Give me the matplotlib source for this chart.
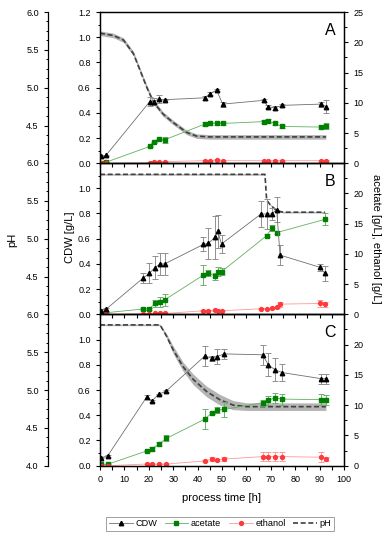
import matplotlib
matplotlib.use("Agg")
import matplotlib.pyplot as plt
from matplotlib.ticker import MultipleLocator
from matplotlib.lines import Line2D
import numpy as np

plt.rcParams['font.family'] = ['Liberation Sans', 'DejaVu Sans']

# ---------------- panel A ----------------
tA = [0.3, 2.5, 20.4, 22, 24, 26.5, 43, 45, 47.8, 50.3, 67.2, 68.7, 71.7, 74.7, 90.6, 92.6]
cdwA = [0.055, 0.065, 0.49, 0.49, 0.51, 0.505, 0.52, 0.553, 0.58, 0.47, 0.50, 0.45, 0.44, 0.46, 0.47, 0.45]
cdwA_err = [0.005, 0.005, 0.035, 0.03, 0.03, 0.005, 0.015, 0.01, 0.01, 0.02, 0.01, 0.01, 0.015, 0.01, 0.02, 0.05]
acA = [0.1, 0.2, 2.8, 3.5, 4.0, 3.9, 6.5, 6.6, 6.6, 6.6, 6.9, 7.0, 6.6, 6.1, 6.0, 6.1]
acA_err = [0.05, 0.05, 0.1, 0.1, 0.1, 0.5, 0.4, 0.2, 0.2, 0.2, 0.3, 0.4, 0.2, 0.2, 0.3, 0.5]
etA = [0, 0, 0.1, 0.15, 0.25, 0.3, 0.45, 0.4, 0.6, 0.45, 0.45, 0.45, 0.45, 0.45, 0.45, 0.45]
etA_err = [0, 0, 0.05, 0.05, 0.05, 0.05, 0.05, 0.05, 0.1, 0.05, 0.05, 0.05, 0.05, 0.05, 0.05, 0.05]
ph_tA = [0, 5.5, 9.6, 13.7, 16.4, 19.1, 21.9, 25.9, 30, 35.5, 39.6, 45, 92.6]
phA = [5.72, 5.69, 5.63, 5.45, 5.23, 5.01, 4.81, 4.65, 4.54, 4.41, 4.36, 4.35, 4.35]
phA_sd = [0.03] * 13

# ---------------- panel B ----------------
tB = [0.3, 2.4, 17.8, 20.2, 22.5, 24.6, 26.5, 42.4, 44.4, 47.1, 48.2, 49.8, 66, 68.3, 70.3, 72.4, 73.8, 90.2, 92.2]
cdwB = [0.03, 0.04, 0.29, 0.325, 0.37, 0.40, 0.40, 0.555, 0.563, 0.61, 0.66, 0.558, 0.796, 0.796, 0.796, 0.83, 0.47, 0.373, 0.325]
cdwB_err = [0.01, 0.01, 0.04, 0.08, 0.09, 0.09, 0.09, 0.055, 0.12, 0.17, 0.13, 0.07, 0.1, 0.12, 0.05, 0.1, 0.08, 0.03, 0.06]
etB = [0, 0, 0.1, 0.1, 0.15, 0.15, 0.15, 0.6, 0.6, 0.7, 0.6, 0.6, 0.93, 0.93, 1.0, 1.15, 1.7, 1.8, 1.7]
etB_err = [0, 0, 0.05, 0.05, 0.05, 0.05, 0.05, 0.1, 0.1, 0.1, 0.1, 0.1, 0.1, 0.1, 0.1, 0.1, 0.4, 0.5, 0.4]
tB_ac = [0.3, 2.4, 17.8, 20.2, 22.5, 24.6, 26.5, 42.4, 44.4, 47.1, 48.2, 49.8, 68.3, 70.3, 72.4, 92.2]
acB = [0.27, 0.27, 0.9, 0.9, 1.8, 2.1, 2.4, 6.5, 6.9, 6.3, 7.05, 7.05, 13.0, 14.2, 13.5, 15.7]
acB_err = [0.05, 0.05, 0.1, 0.1, 0.5, 0.8, 1.0, 1.6, 0.5, 0.6, 0.7, 0.6, 0.2, 0.5, 0.3, 1.0]
ph_tB = [0, 67.6, 68.3, 69.7, 72.4, 75.1, 92.2]
phB = [5.85, 5.85, 5.51, 5.45, 5.37, 5.35, 5.35]
phB_sd = [0.01] * 7

# ---------------- panel C ----------------
tC = [0.3, 3.1, 19.1, 21.2, 24.2, 27.2, 43, 45.8, 47.8, 51, 66.6, 69, 71.7, 74.7, 90.6, 92.6]
cdwC = [0.063, 0.077, 0.543, 0.513, 0.567, 0.593, 0.87, 0.852, 0.865, 0.886, 0.879, 0.80, 0.76, 0.738, 0.69, 0.69]
cdwC_err = [0.005, 0.005, 0.015, 0.01, 0.005, 0.005, 0.08, 0.02, 0.06, 0.04, 0.08, 0.09, 0.09, 0.07, 0.04, 0.04]
acC = [0.23, 0.23, 2.43, 2.77, 3.6, 4.5, 7.7, 8.7, 9.2, 9.3, 10.4, 10.8, 11.2, 11.0, 10.9, 10.9]
acC_err = [0.05, 0.05, 0.2, 0.3, 0.3, 0.5, 1.6, 0.2, 0.5, 1.2, 0.5, 0.7, 0.8, 0.9, 0.9, 0.8]
etC = [0, 0, 0.28, 0.28, 0.28, 0.28, 0.78, 1.1, 0.94, 1.1, 1.5, 1.5, 1.5, 1.5, 1.4, 1.1]
etC_err = [0, 0, 0.05, 0.05, 0.05, 0.05, 0.1, 0.3, 0.1, 0.3, 0.8, 0.8, 0.8, 0.8, 0.8, 0.4]
ph_tC = [0, 24.6, 27.3, 30, 34, 38.2, 43.7, 49.2, 54.6, 60, 92.6]
phC = [5.86, 5.86, 5.71, 5.53, 5.31, 5.14, 4.98, 4.87, 4.80, 4.78, 4.78]
phC_sd = [0.01, 0.01, 0.03, 0.05, 0.06, 0.07, 0.07, 0.07, 0.06, 0.05, 0.05]

panels = [
    dict(letter="A", t=tA, cdw=cdwA, cdw_err=cdwA_err, t_ac=tA, ac=acA, ac_err=acA_err,
         t_et=tA, et=etA, et_err=etA_err, ph_t=ph_tA, ph=phA, ph_sd=phA_sd),
    dict(letter="B", t=tB, cdw=cdwB, cdw_err=cdwB_err, t_ac=tB_ac, ac=acB, ac_err=acB_err,
         t_et=tB, et=etB, et_err=etB_err, ph_t=ph_tB, ph=phB, ph_sd=phB_sd),
    dict(letter="C", t=tC, cdw=cdwC, cdw_err=cdwC_err, t_ac=tC, ac=acC, ac_err=acC_err,
         t_et=tC, et=etC, et_err=etC_err, ph_t=ph_tC, ph=phC, ph_sd=phC_sd),
]

W, H = 392, 550
fig = plt.figure(figsize=(W / 100, H / 100), dpi=100)

x0, x1 = 100 / W, 344 / W
tops = [12, 163, 314.3]
ph = 151.4

# marker / line styles
cdw_kw = dict(color="#707070", lw=0.6, marker="^", ms=3.2, mfc="black", mec="black")
ac_kw = dict(color="#60b060", lw=0.6, marker="s", ms=2.6, mfc="#008000", mec="#008000")
et_kw = dict(color="#ff9a9a", lw=0.6, marker="o", ms=2.8, mfc="#ff3a3a", mec="#ff3a3a")
ph_kw = dict(color="#404040", lw=1.2, ls=(0, (3, 1.6)))

tick_kw = dict(labelsize=6.5, width=0.8, direction="out")


def style_ticks(axis_obj):
    axis_obj.tick_params(which="major", length=3.2, **tick_kw)
    axis_obj.tick_params(which="minor", length=1.8, width=0.7, direction="out")


for i, p in enumerate(panels):
    bottom = 1 - (tops[i] + ph) / H
    ax = fig.add_axes([x0, bottom, x1 - x0, ph / H])
    axp = ax.twinx()
    ax2 = ax.twinx()

    ax.set_zorder(3)
    ax2.set_zorder(2)
    axp.set_zorder(1)
    for a in (ax, ax2, axp):
        a.patch.set_visible(False)

    # pH (offset left axis)
    pt = np.array(p["ph_t"])
    pv = np.array(p["ph"])
    sd = np.array(p["ph_sd"])
    axp.fill_between(pt, pv - sd, pv + sd, color="#b4b4b4", lw=0)
    axp.plot(pt, pv, **ph_kw)
    axp.set_ylim(4, 6)
    axp.spines["left"].set_position(("axes", -0.213))
    axp.spines["left"].set_visible(True)
    axp.spines["right"].set_visible(False)
    axp.spines["top"].set_visible(False)
    axp.spines["bottom"].set_visible(False)
    axp.yaxis.set_ticks_position("left")
    axp.yaxis.set_major_locator(MultipleLocator(0.5))
    axp.yaxis.set_minor_locator(MultipleLocator(0.125))
    if i < 2:
        axp.set_yticks([4.5, 5.0, 5.5, 6.0])
    axp.yaxis.set_major_formatter(plt.FormatStrFormatter("%.1f"))
    style_ticks(axp)

    # acetate / ethanol (right axis)
    ax2.errorbar(p["t_ac"], p["ac"], yerr=p["ac_err"], fmt="none", ecolor="#70b070",
                 elinewidth=0.7, capsize=2, capthick=0.7)
    ax2.plot(p["t_ac"], p["ac"], **ac_kw)
    ax2.errorbar(p["t_et"], p["et"], yerr=p["et_err"], fmt="none", ecolor="#ff9a9a",
                 elinewidth=0.7, capsize=2, capthick=0.7)
    ax2.plot(p["t_et"], p["et"], **et_kw)
    ax2.set_ylim(0, 25)
    ax2.yaxis.set_major_locator(MultipleLocator(5))
    ax2.yaxis.set_minor_locator(MultipleLocator(2.5))
    if i > 0:
        ax2.set_yticks([0, 5, 10, 15, 20])
    style_ticks(ax2)

    # CDW (left axis)
    ax.errorbar(p["t"], p["cdw"], yerr=p["cdw_err"], fmt="none", ecolor="#909090",
                elinewidth=0.7, capsize=2, capthick=0.7)
    ax.plot(p["t"], p["cdw"], **cdw_kw)
    ax.set_xlim(0, 100)
    ax.set_ylim(0, 1.2)
    ax.xaxis.set_major_locator(MultipleLocator(10))
    ax.xaxis.set_minor_locator(MultipleLocator(5))
    ax.yaxis.set_major_locator(MultipleLocator(0.2))
    ax.yaxis.set_minor_locator(MultipleLocator(0.1))
    if i > 0:
        ax.set_yticks([0, 0.2, 0.4, 0.6, 0.8, 1.0])
    ax.yaxis.set_major_formatter(plt.FormatStrFormatter("%.1f"))
    style_ticks(ax)
    ax.tick_params(axis="x", which="minor", length=3.2, width=0.8)
    if i < 2:
        ax.tick_params(axis="x", labelbottom=False)
    for a in (ax, ax2, axp):
        for s in a.spines.values():
            s.set_linewidth(0.9)

    ax.text(0.965, 0.93, p["letter"], transform=ax.transAxes, ha="right", va="top",
            fontsize=11.5)

fig.text(12 / W, 1 - 240 / H, "pH", rotation=90, ha="center", va="center", fontsize=8)
fig.text(70 / W, 1 - 237 / H, "CDW [g/L]", rotation=90, ha="center", va="center", fontsize=8)
fig.text(376 / W, 1 - 239 / H, "acetate [g/L], ethanol [g/L]", rotation=270,
         ha="center", va="center", fontsize=8)
fig.text(222 / W, 1 - 498 / H, "process time [h]", ha="center", va="center", fontsize=8)

handles = [Line2D([], [], **cdw_kw), Line2D([], [], **ac_kw),
           Line2D([], [], **et_kw), Line2D([], [], **ph_kw)]
leg = fig.legend(handles, ["CDW", "acetate", "ethanol", "pH"], loc="center",
                 bbox_to_anchor=(220 / W, 1 - 524 / H), ncol=4, fontsize=6.6,
                 frameon=True, fancybox=False, edgecolor="#888888", handlelength=2.6,
                 columnspacing=0.8, handletextpad=0.3, borderpad=0.25, borderaxespad=0)
leg.get_frame().set_linewidth(0.7)

fig.savefig("out.png", dpi=100)
